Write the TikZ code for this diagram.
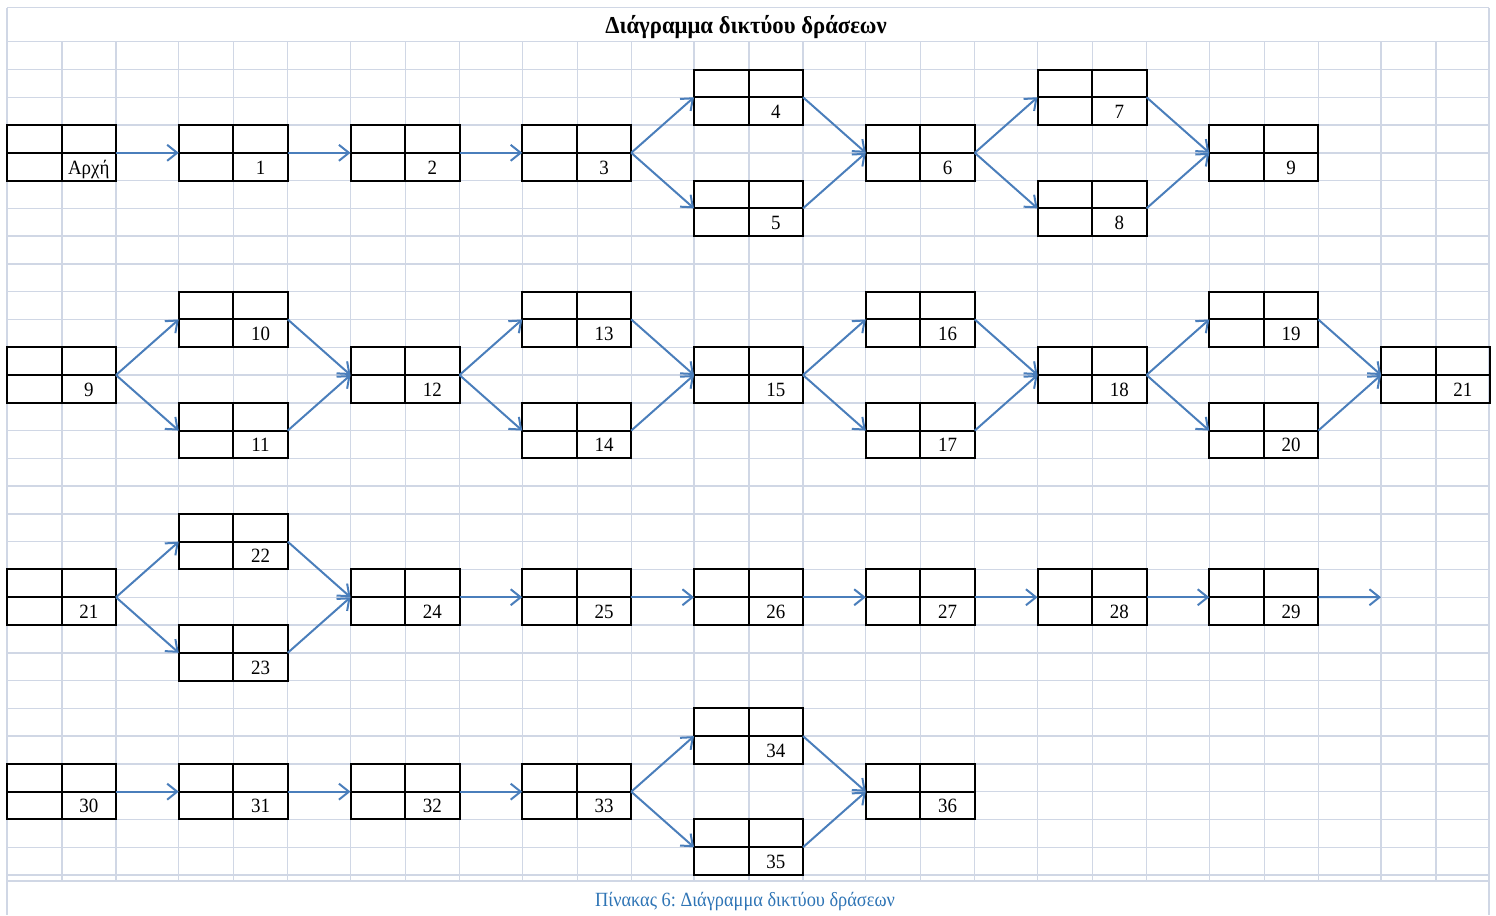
\documentclass[tikz,border=0pt]{standalone}
\usepackage{fontspec}
\setmainfont{Liberation Serif}
\usetikzlibrary{arrows.meta}
\frenchspacing
\definecolor{gridc}{RGB}{208,215,229}
\definecolor{arrc}{RGB}{74,126,187}
\definecolor{capc}{RGB}{46,116,181}
\tikzset{
 actbox/.style={draw=black, line width=2bp, minimum width=109bp, minimum height=55.5bp,
   inner sep=0pt, outer sep=0pt,
   path picture={\draw[line width=2bp] (path picture bounding box.north) -- (path picture bounding box.south)
     (path picture bounding box.west) -- (path picture bounding box.east);}},
 lbl/.style={font=\fontsize{19}{21}\selectfont, inner sep=0pt, anchor=base},
 arr/.style={draw=arrc, line width=2bp, -{Straight Barb[length=10bp,width=16bp]}},
 gridline/.style={draw=gridc, line width=1.4bp},
}
\newcommand\actbox[4]{%
  \pgfmathsetmacro\bxx{7+171.75*#2+54.5}%
  \pgfmathsetmacro\byy{41.7+27.777*(#3+1)}%
  \node[actbox] (#1) at (\bxx,\byy) {};%
  \node[lbl] (#1-l) at ([xshift=27.25bp,yshift=-21.2bp]#1.center) {\scalebox{1}[1.07]{#4}};%
}
\begin{document}
\begin{tikzpicture}[x=1bp,y=-1bp]
\useasboundingbox (0,0) rectangle (1496,915);
% grid
\foreach \k in {0,...,8}{
  \ifnum\k>0 \draw[gridline] ({7+171.75*\k},41.7) -- ({7+171.75*\k},881);\fi
  \draw[gridline] ({7+171.75*\k+55},41.7) -- ({7+171.75*\k+55},881);
  \ifnum\k<8 \draw[gridline] ({7+171.75*\k+109},41.7) -- ({7+171.75*\k+109},881);\fi
}
\foreach \i in {0,...,30}{
  \draw[gridline] (7,{41.7+27.777*\i}) -- (1489,{41.7+27.777*\i});
}
\draw[gridline] (7,881) -- (1489,881);
\draw[gridline] (7,7.5) -- (1489,7.5);
\draw[gridline] (7,7.5) -- (7,915);
\draw[gridline] (1489,7.5) -- (1489,915);
% title and caption
\node[font=\fontsize{22.8}{25}\selectfont\bfseries, anchor=base, inner sep=0pt] (title) at (746,33) {\scalebox{1}[1.07]{Διάγραμμα δικτύου δράσεων}};
\node[font=\fontsize{18.4}{21}\selectfont, text=capc, anchor=base, inner sep=0pt] (caption) at (745,906) {\scalebox{1}[1.1]{Πίνακας 6: Διάγραμμα δικτύου δράσεων}};
% group 1
\actbox{start}{0}{3}{Αρχή}
\actbox{a1}{1}{3}{1}
\actbox{a2}{2}{3}{2}
\actbox{a3}{3}{3}{3}
\actbox{a4}{4}{1}{4}
\actbox{a5}{4}{5}{5}
\actbox{a6}{5}{3}{6}
\actbox{a7}{6}{1}{7}
\actbox{a8}{6}{5}{8}
\actbox{a9}{7}{3}{9}
% group 2
\actbox{b9}{0}{11}{9}
\actbox{a10}{1}{9}{10}
\actbox{a11}{1}{13}{11}
\actbox{a12}{2}{11}{12}
\actbox{a13}{3}{9}{13}
\actbox{a14}{3}{13}{14}
\actbox{a15}{4}{11}{15}
\actbox{a16}{5}{9}{16}
\actbox{a17}{5}{13}{17}
\actbox{a18}{6}{11}{18}
\actbox{a19}{7}{9}{19}
\actbox{a20}{7}{13}{20}
\actbox{a21}{8}{11}{21}
% group 3
\actbox{b21}{0}{19}{21}
\actbox{a22}{1}{17}{22}
\actbox{a23}{1}{21}{23}
\actbox{a24}{2}{19}{24}
\actbox{a25}{3}{19}{25}
\actbox{a26}{4}{19}{26}
\actbox{a27}{5}{19}{27}
\actbox{a28}{6}{19}{28}
\actbox{a29}{7}{19}{29}
\coordinate (end29) at (1381,597.24);
% group 4
\actbox{a30}{0}{26}{30}
\actbox{a31}{1}{26}{31}
\actbox{a32}{2}{26}{32}
\actbox{a33}{3}{26}{33}
\actbox{a34}{4}{24}{34}
\actbox{a35}{4}{28}{35}
\actbox{a36}{5}{26}{36}
% arrows
\foreach \s/\t in {start/a1,a1/a2,a2/a3,a3/a4,a3/a5,a4/a6,a5/a6,a6/a7,a6/a8,a7/a9,a8/a9,
  b9/a10,b9/a11,a10/a12,a11/a12,a12/a13,a12/a14,a13/a15,a14/a15,a15/a16,a15/a17,a16/a18,a17/a18,a18/a19,a18/a20,a19/a21,a20/a21,
  b21/a22,b21/a23,a22/a24,a23/a24,a24/a25,a25/a26,a26/a27,a27/a28,a28/a29,
  a30/a31,a31/a32,a32/a33,a33/a34,a33/a35,a34/a36,a35/a36}{
  \draw[arr] (\s.east) -- (\t.west);
}
\draw[arr] (a29.east) -- (end29);
\end{tikzpicture}
\end{document}
